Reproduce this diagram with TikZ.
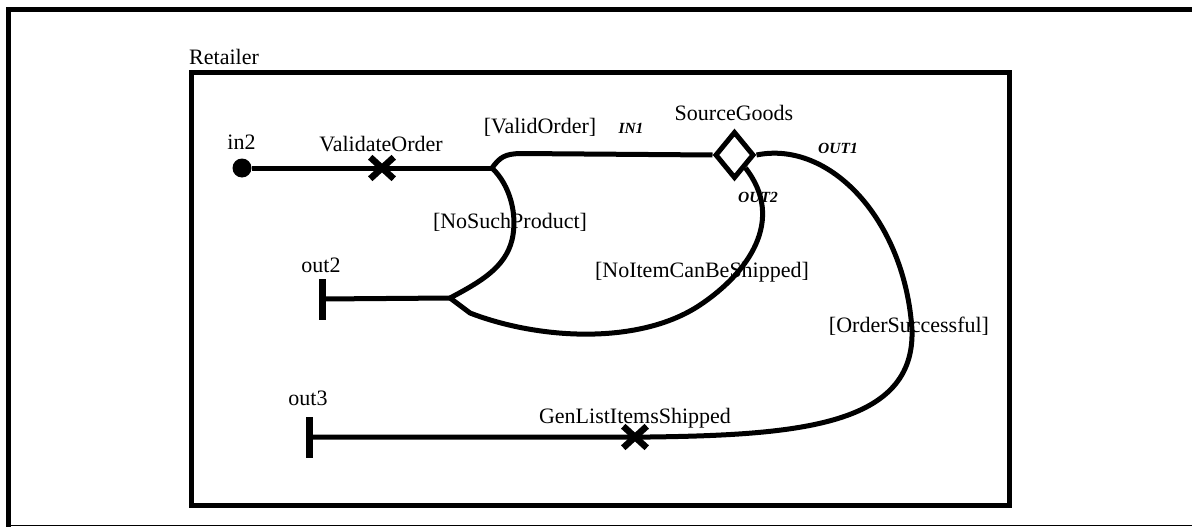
\documentclass[tikz,border=0pt]{standalone}
\usepackage{fontspec}
\setmainfont{Liberation Serif}
\usetikzlibrary{shapes.geometric,shapes.misc}
\begin{document}
\begin{tikzpicture}[x=1pt,y=-1pt,
  lbl/.style={font=\fontsize{22}{26}\selectfont, inner sep=0pt, anchor=base},
  port/.style={font=\fontsize{15.5}{18}\selectfont\bfseries\itshape, inner sep=0pt, anchor=base},
  flow/.style={line width=5pt, line join=round},
  xmark/.style={cross out, draw, line width=6.5pt, minimum width=17pt, minimum height=15pt, inner sep=0pt},
  bar/.style={fill, minimum width=7pt, minimum height=41pt, inner sep=0pt},
]
\useasboundingbox (0,0) rectangle (1192,527);
% outer frame
\draw[line width=5pt] (1192,10) -- (8.5,10) -- (8.5,527);
\draw[line width=1.5pt] (8.5,525.5) -- (1192,525.5);
% retailer box
\node[lbl, anchor=base west] (ret) at (189,65) {Retailer};
\draw[line width=5pt] (191,73) rectangle (1009,505);
% nodes
\node[circle, fill, minimum size=19pt, inner sep=0pt] (in2) at (242,168) {};
\coordinate (b1) at (492,168);
\coordinate (b2) at (450,298);
\node[draw, diamond, line width=5pt, minimum width=39pt, minimum height=47pt, inner sep=0pt] (sg) at (734.5,155) {};
\node[bar] (out2) at (322,299) {};
\node[bar] (out3) at (309,437) {};
% connectors
\draw[flow] (in2) -- (b1);
\draw[flow] (b1) .. controls (500,157) and (505,154) .. (520,153.5) -- (sg.west);
\draw[flow] (b1) .. controls (510,185) and (518,215) .. (512,240) .. controls (505,268) and (480,282) .. (b2);
\draw[flow] (out2) -- (b2);
\draw[flow] (b2) -- (470,313) .. controls (540,340) and (640,345) .. (700,305) .. controls (748,273) and (786,220) .. (sg.south east);
\draw[flow] (sg.east) .. controls (830,140) and (905,220) .. (912,330) .. controls (915,425) and (800,435) .. (650,437) -- (out3);
% markers
\node[xmark] (vo) at (382,168) {};
\node[xmark] (gl) at (635,437) {};
% labels
\node[lbl] (in2l) at (241.5,149) {in2};
\node[lbl] (vol) at (381,151) {ValidateOrder};
\node[lbl] (validl) at (540,133) {[ValidOrder]};
\node[port] (in1l) at (631,133) {IN1};
\node[lbl] (sgl) at (734,121) {SourceGoods};
\node[port] (out1l) at (838,153) {OUT1};
\node[port] (out2p) at (758,202) {OUT2};
\node[lbl] (nspl) at (510,228) {[NoSuchProduct]};
\node[lbl] (out2l) at (321,272) {out2};
\node[lbl] (nicl) at (702,277) {[NoItemCanBeShipped]};
\node[lbl] (osl) at (909,332) {[OrderSuccessful]};
\node[lbl] (out3l) at (308,405) {out3};
\node[lbl] (gll) at (635,423) {GenListItemsShipped};
\end{tikzpicture}
\end{document}
